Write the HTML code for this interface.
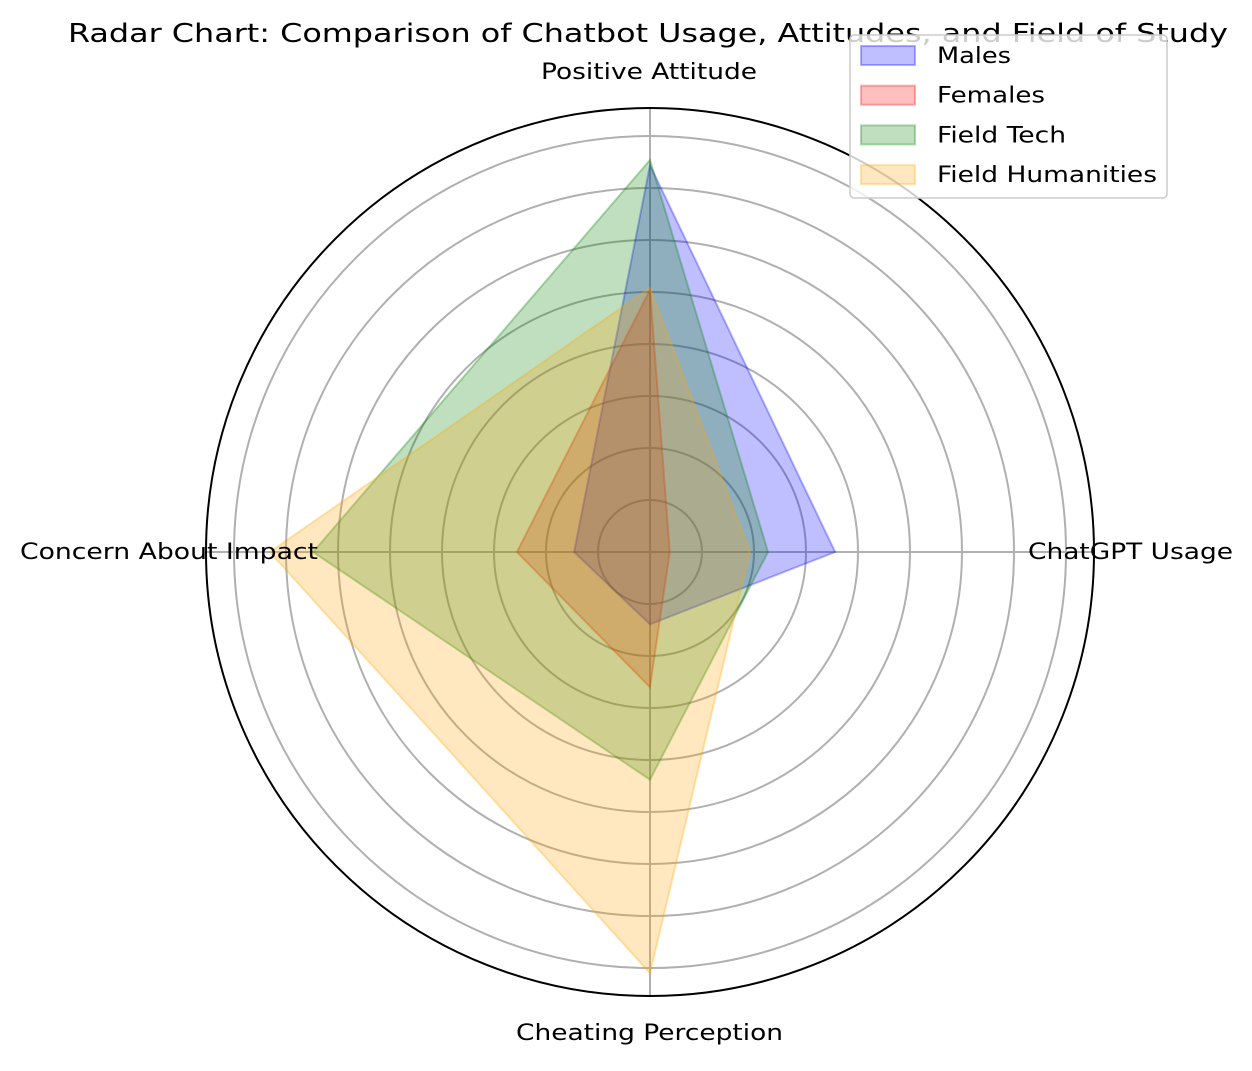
<!DOCTYPE html>
<html><head><meta charset="utf-8"><style>
body{margin:0;background:#fff;}
svg text{font-family:"DejaVu Sans","Liberation Sans",sans-serif;}
</style></head><body>
<svg id="chart" width="1252" height="1066" viewBox="0 0 1252 1066" xmlns="http://www.w3.org/2000/svg">
<rect width="1252" height="1066" fill="#fff"/>
<text x="68" y="42" font-size="26" textLength="1160" lengthAdjust="spacingAndGlyphs" fill="#000">Radar Chart: Comparison of Chatbot Usage, Attitudes, and Field of Study</text>
<g id="grid"></g>
<g id="series"></g>
<g id="labels"></g>
<g>
<rect x="850" y="35" width="317" height="163" rx="4" fill="#fff" fill-opacity="0.8" stroke="#ccc" stroke-width="1.5"/>
<g id="legend-items"></g>
</g>
</svg>
<script>
const categories = ["Positive Attitude","ChatGPT Usage","Cheating Perception","Concern About Impact"];
const seriesNames = ["Males","Females","Field Tech","Field Humanities"];
const males = [74.4, 35.6, 13.9, 14.6];
const females = [50.4, 3.8, 26.0, 25.6];
const fieldTech = [75.4, 22.7, 43.8, 64.8];
const fieldHumanities = [50.8, 19.2, 81.0, 73.1];
const gridTicks = [10,20,30,40,50,60,70,80];
const cx = 650, cy = 552, pxPerUnit = 5.2, outerR = 444;
const colors = ["#0000ff","#ff0000","#008000","#ffa500"];
const NS = "http://www.w3.org/2000/svg";
function angle(i){ return Math.PI/2 - i*2*Math.PI/categories.length; }
function pt(i,v){ const a=angle(i), r=v*pxPerUnit; return [cx + r*Math.cos(a), cy - r*Math.sin(a)]; }
const grid = document.getElementById('grid');
gridTicks.forEach(t=>{
  const c=document.createElementNS(NS,'circle');
  
  
  c.setAttribute('cx',cx);c.setAttribute('cy',cy);c.setAttribute('r',t*pxPerUnit);
  c.setAttribute('fill','none');c.setAttribute('stroke','#b0b0b0');c.setAttribute('stroke-width','2');
  grid.appendChild(c);
});
categories.forEach((c,i)=>{
  const a=angle(i);
  const l=document.createElementNS(NS,'line');
  
  
  l.setAttribute('x1',cx);l.setAttribute('y1',cy);
  l.setAttribute('x2',cx+outerR*Math.cos(a));l.setAttribute('y2',cy-outerR*Math.sin(a));
  l.setAttribute('stroke','#b0b0b0');l.setAttribute('stroke-width','2');
  grid.appendChild(l);
});
const oc=document.createElementNS(NS,'circle');


oc.setAttribute('cx',cx);oc.setAttribute('cy',cy);oc.setAttribute('r',outerR);
oc.setAttribute('fill','none');oc.setAttribute('stroke','#000');oc.setAttribute('stroke-width','2');
grid.appendChild(oc);
const data=[males,females,fieldTech,fieldHumanities];
const sg=document.getElementById('series');
data.forEach((vals,s)=>{
  const p=document.createElementNS(NS,'polygon');
  
  
  p.setAttribute('points',vals.map((v,i)=>pt(i,v).join(',')).join(' '));
  p.setAttribute('fill',colors[s]);p.setAttribute('fill-opacity','0.25');
  p.setAttribute('stroke',colors[s]);p.setAttribute('stroke-opacity','0.3');p.setAttribute('stroke-width','2');
  sg.appendChild(p);
});
const lab=document.getElementById('labels');
const labPos=[[541,79,216],[1028,559,205],[516,1040,267],[20,559,298]];
categories.forEach((c,i)=>{
  const t=document.createElementNS(NS,'text');
  
  
  t.setAttribute('x',labPos[i][0]);t.setAttribute('y',labPos[i][1]);
  t.setAttribute('textLength',labPos[i][2]);t.setAttribute('lengthAdjust','spacingAndGlyphs');
  t.setAttribute('font-size','22');
  t.textContent=c;lab.appendChild(t);
});
const lg=document.getElementById('legend-items');
const legLens=[74,108,129,220];
seriesNames.forEach((n,s)=>{
  const y=55+s*39.7;
  const r=document.createElementNS(NS,'rect');
  
  
  r.setAttribute('x',861);r.setAttribute('y',y-9);r.setAttribute('width',54);r.setAttribute('height',19);
  r.setAttribute('fill',colors[s]);r.setAttribute('fill-opacity','0.25');
  r.setAttribute('stroke',colors[s]);r.setAttribute('stroke-opacity','0.3');r.setAttribute('stroke-width','2');
  lg.appendChild(r);
  const t=document.createElementNS(NS,'text');
  
  
  t.setAttribute('x',937);t.setAttribute('y',y+8);t.setAttribute('font-size','22');
  t.setAttribute('textLength',legLens[s]);t.setAttribute('lengthAdjust','spacingAndGlyphs');
  t.textContent=n;lg.appendChild(t);
});
</script>
</body></html>
